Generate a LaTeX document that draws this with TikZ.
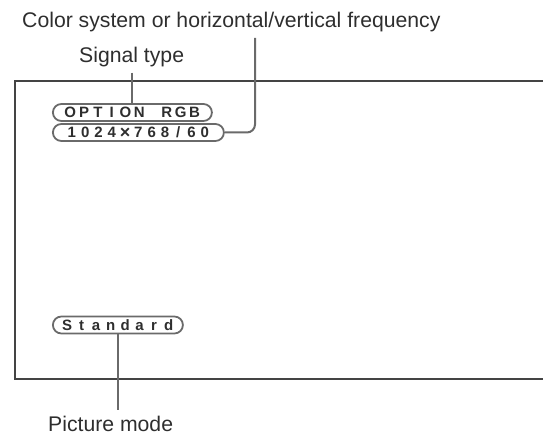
\documentclass[tikz,border=0pt]{standalone}
\usepackage{fontspec}
\setmainfont{Liberation Sans}[BoldFont={Liberation Sans Bold}]
\usetikzlibrary{shapes.misc,positioning}

\definecolor{inkgray}{HTML}{2E2E2E}
\definecolor{linegray}{HTML}{6A6A6A}
\definecolor{framegray}{HTML}{444444}

% on-screen characters, one fixed cell each
\newcommand{\osdchars}[2]{\foreach \ch in {#2}{\makebox[#1][c]{\ch}}}
\newcommand{\osdtimes}{{\fontsize{18}{14}\selectfont\raisebox{-0.8pt}{×}}}

\begin{document}
\begin{tikzpicture}[x=1pt, y=-1pt,
    callout/.style={font=\fontsize{21.2}{24}\selectfont, text=inkgray,
                    anchor=base west, inner xsep=0pt, inner ysep=5pt},
    osd/.style={rounded rectangle, draw=linegray, line width=1.8pt,
                minimum height=17pt, inner sep=0pt, anchor=west,
                font=\fontsize{15}{15}\selectfont\bfseries, text=inkgray},
    link/.style={draw=linegray, line width=2pt}
]
\useasboundingbox (0,0) rectangle (543,435);

% Screen
\draw[framegray, line width=1.5pt] (543,81) -- (15,81) -- (15,379) -- (543,379);

% Labels
\node[callout] (freqlabel) at (22,28) {Color system or horizontal/vertical frequency};
\node[callout] (siglabel) at (79,63) {Signal type};
\node[callout] (modelabel) at (48,431) {Picture mode};

% On-screen display
\node[osd, minimum width=159pt] (sigpill) at (52,112.5)
    {\osdchars{13.8pt}{O,P,T,I,O,N,{},R,G,B}};
\node[osd, minimum width=171pt] (freqpill) at (52,132.5)
    {\osdchars{13.3pt}{1,0,2,4,\osdtimes,7,6,8,/,6,0}};
\node[osd, minimum width=130pt] (modepill) at (52,325)
    {\osdchars{14.5pt}{S,t,a,n,d,a,r,d}};

% Leaders
\coordinate (freqtop) at (255,38);
\draw[link] (siglabel.south -| sigpill.north) -- (sigpill.north);
\draw[link, rounded corners=8pt] (freqpill.east) -| (freqtop);
\draw[link] (modepill.south) -- (modepill.south |- modelabel.north);

\end{tikzpicture}
\end{document}
